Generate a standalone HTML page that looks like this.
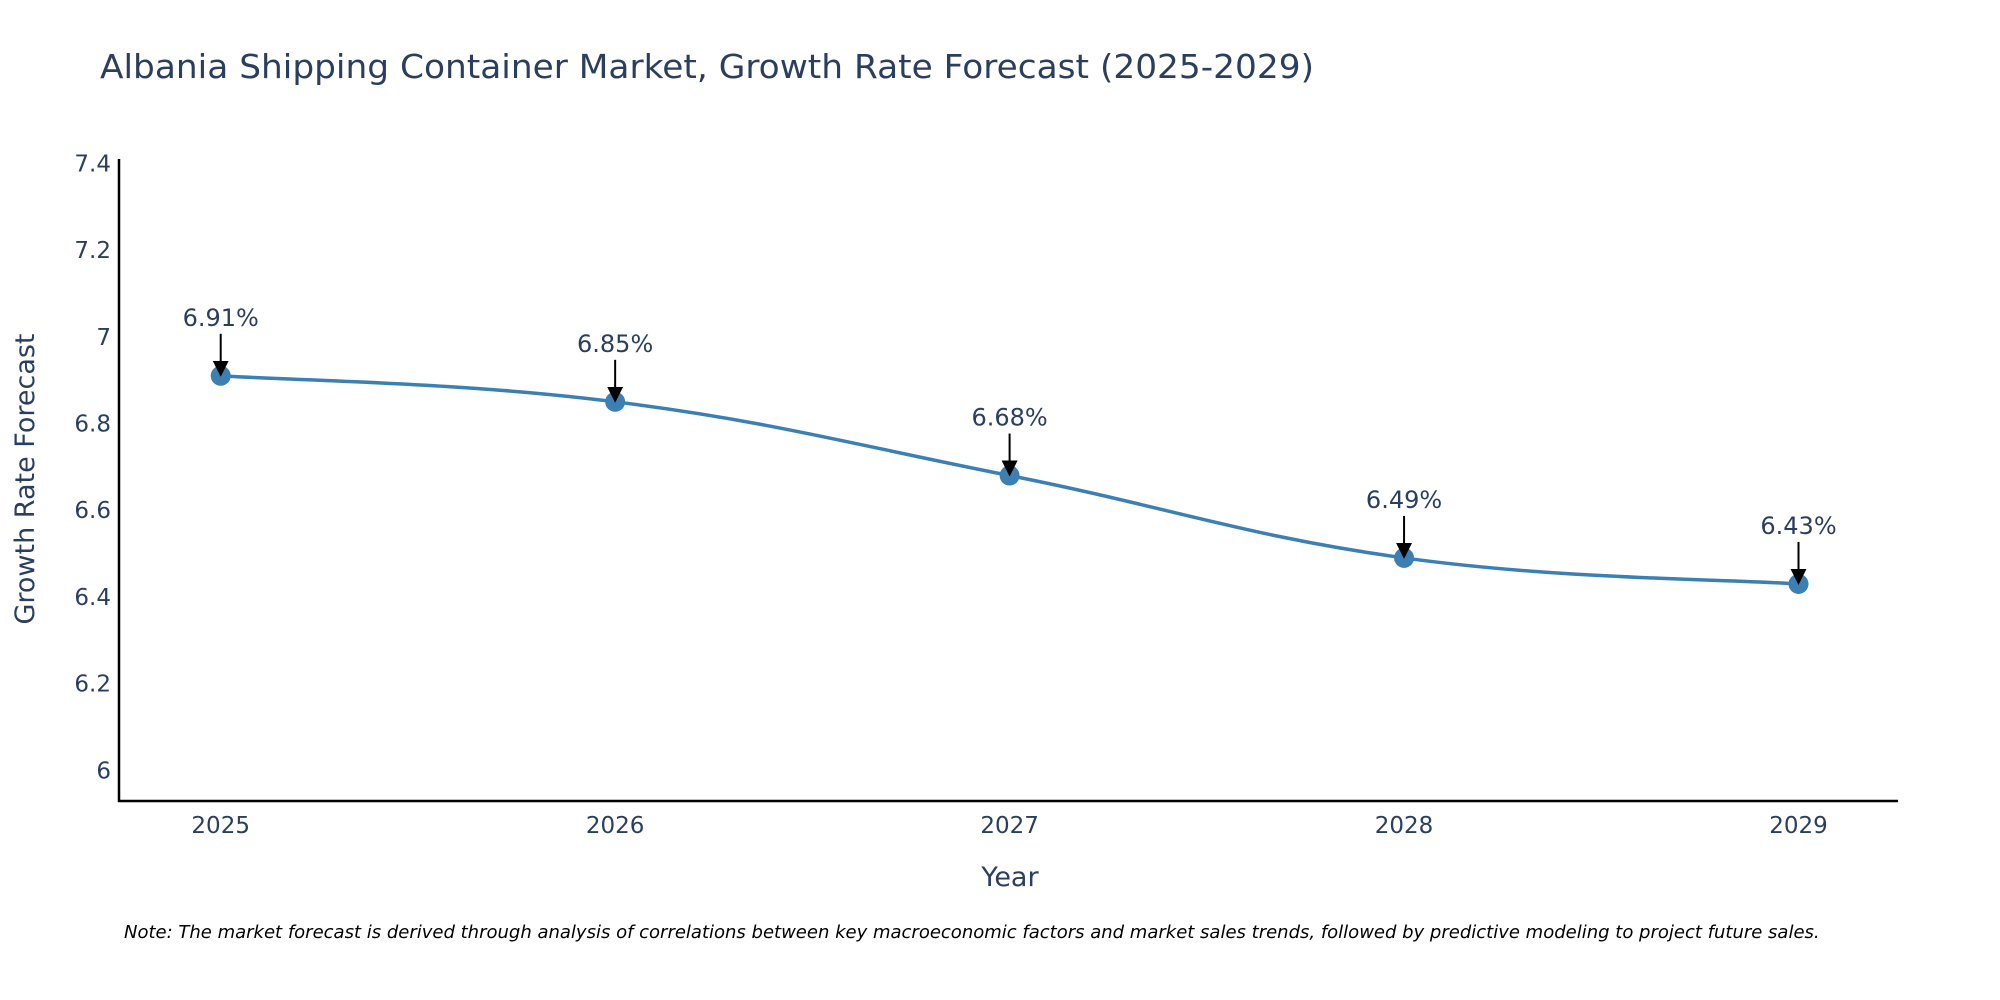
<!DOCTYPE html>
<html>
<head>
<meta charset="utf-8">
<style>
  html,body{margin:0;padding:0;background:#fff;}
  svg{display:block;font-family:"DejaVu Sans","Liberation Sans",sans-serif;}
</style>
</head>
<body>
<svg id="chart" width="2000" height="1000" viewBox="0 0 2000 1000" xmlns="http://www.w3.org/2000/svg">
  <defs>
    <marker id="arrowhead" markerWidth="16" markerHeight="16" refX="14" refY="8" orient="auto" markerUnits="userSpaceOnUse" viewBox="0 0 16 16">
      <path d="M0,0 L16,8 L0,16 Z" fill="#000"/>
    </marker>
  </defs>
  <rect width="2000" height="1000" fill="#fff"/>
  <text x="100" y="78" font-size="33" fill="#2a3f5f" textLength="1214" lengthAdjust="spacingAndGlyphs">Albania Shipping Container Market, Growth Rate Forecast (2025-2029)</text>
  <g id="yticks"></g>
  <g id="xticks"></g>
  <line x1="119" y1="159" x2="119" y2="802" stroke="#000" stroke-width="2.5"/>
  <line x1="118" y1="801" x2="1898" y2="801" stroke="#000" stroke-width="2.5"/>
  <g id="series"></g>
  <g id="annots"></g>
  <text transform="translate(34,479) rotate(-90)" text-anchor="middle" font-size="27" fill="#2a3f5f">Growth Rate Forecast</text>
  <text x="1010" y="886" text-anchor="middle" font-size="27" fill="#2a3f5f">Year</text>
  <text x="124" y="938" font-size="18" font-style="italic" fill="#000">Note: The market forecast is derived through analysis of correlations between key macroeconomic factors and market sales trends, followed by predictive modeling to project future sales.</text>
</svg>
<script>
const categories = ["2025","2026","2027","2028","2029"];
const values = [6.91, 6.85, 6.68, 6.49, 6.43];
const valueLabels = ["6.91%","6.85%","6.68%","6.49%","6.43%"];
const yTicks = [6, 6.2, 6.4, 6.6, 6.8, 7, 7.2, 7.4];
const yTickLabels = ["6","6.2","6.4","6.6","6.8","7","7.2","7.4"];

const NS = "http://www.w3.org/2000/svg";
const xFirst = 220.7, xLast = 1798.5;
function xPos(i){ return xFirst + (xLast - xFirst) * i / (categories.length - 1); }
function yPos(v){ return 163.3 + (7.4 - v) / 0.2 * 86.73; }
function mk(tag, attrs, parent){
  const el = document.createElementNS(NS, tag);
  for (const k in attrs) el.setAttribute(k, attrs[k]);
  parent.appendChild(el);
  return el;
}

const yg = document.getElementById('yticks');
yTicks.forEach((t, i) => {
  const el = mk('text', {x: 111, y: yPos(t) + 8, 'text-anchor': 'end', 'font-size': 23, fill: '#2a3f5f'}, yg);
  
  
  el.textContent = yTickLabels[i];
});
const xg = document.getElementById('xticks');
categories.forEach((c, i) => {
  const el = mk('text', {x: xPos(i), y: 833, 'text-anchor': 'middle', 'font-size': 23, fill: '#2a3f5f'}, xg);
  
  
  el.textContent = c;
});

const pts = values.map((v, i) => [xPos(i), yPos(v)]);
let d = `M${pts[0][0]},${pts[0][1]}`;
const s = 0.2;
for (let i = 0; i < pts.length - 1; i++) {
  const p0 = pts[Math.max(0, i - 1)], p1 = pts[i], p2 = pts[i + 1], p3 = pts[Math.min(pts.length - 1, i + 2)];
  const c1 = [p1[0] + (p2[0] - p0[0]) * s, p1[1] + (p2[1] - p0[1]) * s];
  const c2 = [p2[0] - (p3[0] - p1[0]) * s, p2[1] - (p3[1] - p1[1]) * s];
  d += ` C${c1[0]},${c1[1]} ${c2[0]},${c2[1]} ${p2[0]},${p2[1]}`;
}
const sg = document.getElementById('series');
const line = mk('path', {d: d, fill: 'none', stroke: '#3b7fb3', 'stroke-width': 3.5}, sg);


pts.forEach((p, i) => {
  const c = mk('circle', {cx: p[0], cy: p[1], r: 10, fill: '#3b7fb3'}, sg);
  
  
});

const ag = document.getElementById('annots');
pts.forEach((p, i) => {
  const a = mk('line', {x1: p[0], y1: p[1] - 42, x2: p[0], y2: p[1] - 1, stroke: '#000', 'stroke-width': 2, 'marker-end': 'url(#arrowhead)'}, ag);
  
  
  const t = mk('text', {x: p[0], y: p[1] - 50, 'text-anchor': 'middle', 'font-size': 24, fill: '#2a3f5f'}, ag);
  
  
  t.textContent = valueLabels[i];
});
</script>
</body>
</html>
